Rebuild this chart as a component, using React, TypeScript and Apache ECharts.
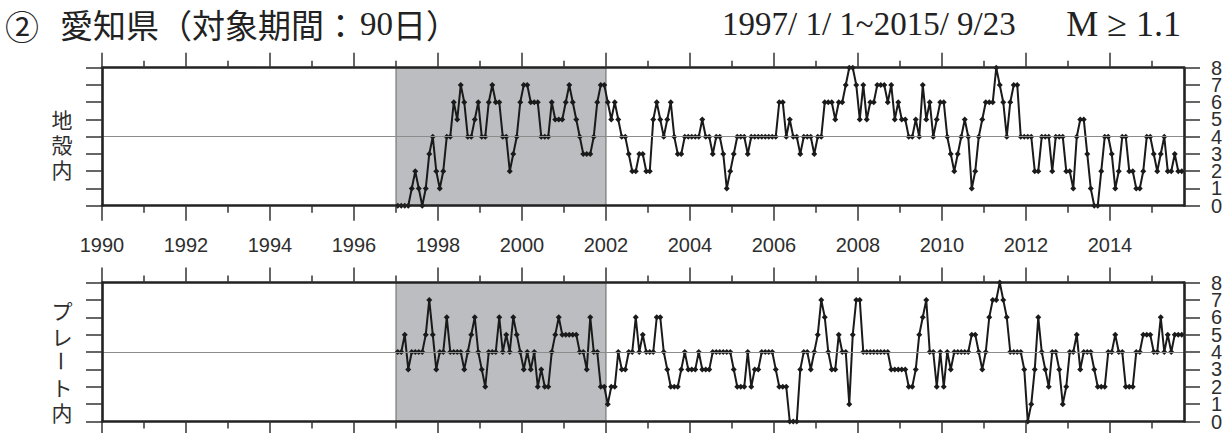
import React, { useEffect, useRef } from "react";
import * as echarts from "echarts";

// ---- data ----
const START_YEAR = 1997.042; // first 90-day count plotted
const STEP_YEARS = 1 / 12; // one value per month
const X_MIN = 1990;
const X_MAX = 2015.762;

// 地殻内 (crustal) event counts
const crustal = [
  0, 0, 0, 0, 1, 2, 1, 0, 1, 3, 4, 2, 1, 2, 4, 4, 6, 5, 7, 6,
  4, 4, 5, 6, 4, 4, 6, 7, 6, 6, 4, 4, 2, 3, 4, 6, 7, 7, 6, 6,
  6, 4, 4, 4, 6, 5, 5, 5, 6, 7, 6, 5, 4, 3, 3, 3, 4, 6, 7, 7,
  6, 5, 6, 5, 4, 4, 3, 2, 2, 3, 3, 2, 2, 5, 6, 5, 4, 5, 6, 4,
  3, 3, 4, 4, 4, 4, 4, 5, 4, 4, 3, 4, 4, 3, 1, 2, 3, 4, 4, 4,
  3, 4, 4, 4, 4, 4, 4, 4, 4, 6, 6, 4, 5, 4, 4, 3, 4, 4, 4, 3,
  4, 4, 6, 6, 6, 5, 6, 6, 7, 8, 8, 7, 5, 7, 5, 6, 6, 7, 7, 7,
  6, 7, 5, 6, 5, 5, 4, 4, 5, 4,
  7, 5, 6, 4, 5, 6, 6, 4, 3, 2, 3, 4, 5, 4, 1, 2, 4, 5, 6, 6,
  6, 8, 7, 6, 4, 6, 7, 7, 4, 4, 4, 4, 2, 2, 4, 4, 4, 2, 4, 4,
  4, 2, 2, 1, 4, 5, 5, 3, 1, 0, 0, 2, 4, 4, 3, 1, 2, 4, 4, 2,
  2, 1, 1, 2, 4, 4, 3, 2, 3, 4, 2, 2, 3, 2, 2,
];

// プレート内 (intraplate) event counts
const plate = [
  4, 4, 5, 3, 4, 4, 4, 4, 5, 7, 5, 3, 4, 4, 6, 4, 4, 4, 4, 3,
  4, 5, 6, 4, 3, 2, 4, 4, 4, 6, 4, 5, 4, 6, 5, 4, 3, 4, 3, 4,
  2, 3, 2, 2, 4, 5, 6, 5, 5, 5, 5, 5, 4, 4, 3, 6, 4, 4, 2, 2,
  1, 2, 2, 4, 3, 3, 4, 4, 6, 4, 5, 4, 4, 4, 6, 6, 4, 3, 2, 2,
  2, 3, 4, 3, 3, 3, 4,
  3, 3, 3, 4, 4, 4, 4, 4, 4, 3, 2, 2, 2, 4, 2, 3, 3, 4, 4, 4,
  4, 3, 2, 2, 2, 0, 0, 0, 3, 4, 4, 3, 4, 5, 7, 6, 4, 3, 3, 5,
  4, 4, 1, 5, 7, 7, 4, 4, 4, 4, 4, 4, 4, 4, 3, 3, 3, 3,
  3, 2, 2, 3, 5, 6, 7, 4, 4, 2, 4, 2, 4, 3, 4, 4, 4, 4, 4, 5,
  5, 4, 3, 4, 6, 7, 7, 8, 7, 6, 4, 4, 4, 4, 3, 0, 1, 3, 6, 4,
  3, 2, 4, 4, 3, 1, 2, 4, 4, 5, 3, 4, 4, 4, 3, 2, 2, 2, 4, 4,
  5, 4, 4, 2, 2, 2, 4, 4, 5, 5, 5, 4, 4, 6, 4, 5, 4, 5, 5, 5,
];

const majorYears = [1990, 1992, 1994, 1996, 1998, 2000, 2002, 2004, 2006, 2008, 2010, 2012, 2014];
const minorYears = [1991, 1993, 1995, 1997, 1999, 2001, 2003, 2005, 2007, 2009, 2011, 2013, 2015];
const evenCountLabels = [0, 2, 4, 6, 8];
const oddCountLabels = [1, 3, 5, 7];
const shadeRange = [1997, 2002];
const refLevel = 4;
const Y_MIN = 0;
const Y_MAX = 8;

const titleMark = "②";
const titleMain = "愛知県（対象期間：";
const titleDays = "90";
const titleEnd = "日）";
const periodText = "1997/ 1/ 1~2015/ 9/23";
const magText = "M ≥ 1.1";
const crustalLabel = ["地", "殻", "内"];
const plateLabel = ["プ", "レ", "ー", "ト", "内"];

const toPairs = (vals: number[]) => vals.map((v, i) => [START_YEAR + i * STEP_YEARS, v]);

const INK = "#222";
const TXT = "#2e2e2e";
const SANS = "'Liberation Sans', Arial, Helvetica, sans-serif";
const SERIF = "'Liberation Serif', 'Times New Roman', serif";
const CJK = "'Noto Sans CJK JP', 'Noto Sans', sans-serif";

function xAxisDef(gridIndex: number, position: string, major: boolean, withLabels: boolean) {
  return {
    type: "value",
    gridIndex,
    position,
    min: X_MIN,
    max: X_MAX,
    z: 5,
    axisLine: { show: major, onZero: false, lineStyle: { color: INK, width: 2.6 } },
    axisTick: {
      show: true,
      inside: false,
      length: major ? 15 : 7,
      customValues: major ? majorYears : minorYears,
      lineStyle: { color: "#333", width: 1.5 },
    },
    axisLabel: {
      show: withLabels,
      customValues: majorYears,
      formatter: (v: number) => String(Math.round(v)),
      fontSize: 20,
      color: TXT,
      margin: 29,
      fontFamily: SANS,
    },
    splitLine: { show: false },
  };
}

// kind: "left" = frame + ticks, "right" = frame + ticks + even labels, "odd" = odd labels only
function yAxisDef(gridIndex: number, kind: string) {
  const isFrame = kind !== "odd";
  return {
    type: "value",
    gridIndex,
    position: kind === "left" ? "left" : "right",
    min: Y_MIN,
    max: Y_MAX,
    interval: 1,
    z: 5,
    axisLine: { show: isFrame, onZero: false, lineStyle: { color: INK, width: 2.6 } },
    axisTick: { show: isFrame, inside: false, length: 16, lineStyle: { color: "#333", width: 1.5 } },
    axisLabel: {
      show: kind !== "left",
      customValues: kind === "odd" ? oddCountLabels : evenCountLabels,
      showMinLabel: true,
      showMaxLabel: true,
      fontSize: 20,
      color: TXT,
      margin: 27,
      fontFamily: SANS,
    },
    splitLine: { show: false },
  };
}

function panelSeries(gridIdx: number, values: number[]) {
  const xi = gridIdx * 4;
  const yi = gridIdx * 3;
  return [
    {
      type: "line",
      xAxisIndex: xi,
      yAxisIndex: yi,
      data: [],
      z: 1,
      silent: true,
      markArea: {
        silent: true,
        itemStyle: { color: "#bcbdc0", borderColor: "#666", borderWidth: 1 },
        data: [[{ xAxis: shadeRange[0] }, { xAxis: shadeRange[1] }]],
      },
    },
    {
      type: "line",
      xAxisIndex: xi,
      yAxisIndex: yi,
      data: [],
      z: 2,
      silent: true,
      markLine: {
        silent: true,
        symbol: ["none", "none"],
        label: { show: false },
        lineStyle: { color: "#8c8c8c", width: 1, type: "solid" },
        data: [{ yAxis: refLevel }],
      },
    },
    {
      type: "line",
      xAxisIndex: xi,
      yAxisIndex: yi,
      data: toPairs(values),
      z: 3,
      silent: true,
      clip: false,
      symbol: "diamond",
      symbolSize: 6,
      showSymbol: true,
      showAllSymbol: true,
      itemStyle: { color: "#1a1a1a" },
      lineStyle: { color: "#1a1a1a", width: 2 },
      emphasis: { disabled: true },
    },
  ];
}

function verticalLabel(chars: string[], centerY: number, step: number) {
  const top = centerY - ((chars.length - 1) * step) / 2;
  return chars.map((ch, i) => ({
    type: "text",
    x: 62,
    y: top + i * step,
    rotation: ch === "ー" ? -Math.PI / 2 : 0,
    style: {
      text: ch,
      font: `21px ${CJK}`,
      lineHeight: 22,
      fill: TXT,
      align: "center",
      verticalAlign: "middle",
    },
  }));
}

export default function App() {
  const ref = useRef<HTMLDivElement>(null);
  useEffect(() => {
    if (!ref.current) return;
    const chart = echarts.init(ref.current, undefined, { renderer: "svg" });
    chart.setOption({
      animation: false,
      backgroundColor: "#ffffff",
      grid: [
        { left: 102, right: 48, top: 67.7, height: 138 },
        { left: 102, right: 48, top: 282.5, height: 139 },
      ],
      xAxis: [
        xAxisDef(0, "bottom", true, true),
        xAxisDef(0, "bottom", false, false),
        xAxisDef(0, "top", true, false),
        xAxisDef(0, "top", false, false),
        xAxisDef(1, "bottom", true, false),
        xAxisDef(1, "bottom", false, false),
        xAxisDef(1, "top", true, false),
        xAxisDef(1, "top", false, false),
      ],
      yAxis: [
        yAxisDef(0, "left"),
        yAxisDef(0, "right"),
        yAxisDef(0, "odd"),
        yAxisDef(1, "left"),
        yAxisDef(1, "right"),
        yAxisDef(1, "odd"),
      ],
      series: [...panelSeries(0, crustal), ...panelSeries(1, plate)],
      graphic: [
        {
          type: "text",
          x: 22,
          y: 25,
          style: { text: titleMark, font: `34px ${CJK}`, fill: INK, align: "center", verticalAlign: "middle" },
        },
        {
          type: "text",
          x: 60,
          y: 24,
          style: { text: titleMain, font: `33px ${CJK}`, fill: INK, align: "left", verticalAlign: "middle" },
        },
        {
          type: "text",
          x: 360,
          y: 24,
          style: { text: titleDays, font: `33px ${SERIF}`, fill: INK, align: "left", verticalAlign: "middle" },
        },
        {
          type: "text",
          x: 393,
          y: 24,
          style: { text: titleEnd, font: `33px ${CJK}`, fill: INK, align: "left", verticalAlign: "middle" },
        },
        {
          type: "text",
          x: 722,
          y: 24,
          style: { text: periodText, font: `33px ${SERIF}`, fill: INK, verticalAlign: "middle", align: "left" },
        },
        {
          type: "text",
          x: 1181,
          y: 24,
          style: { text: magText, font: `36px ${SERIF}`, fill: INK, verticalAlign: "middle", align: "right" },
        },
        ...verticalLabel(crustalLabel, 143.5, 25),
        ...verticalLabel(plateLabel, 361, 25.5),
      ],
    });
    return () => chart.dispose();
  }, []);
  return (
    <div
      ref={ref}
      style={{ position: "absolute", left: 0, top: 0, width: 1232, height: 433, background: "#fff" }}
    />
  );
}
